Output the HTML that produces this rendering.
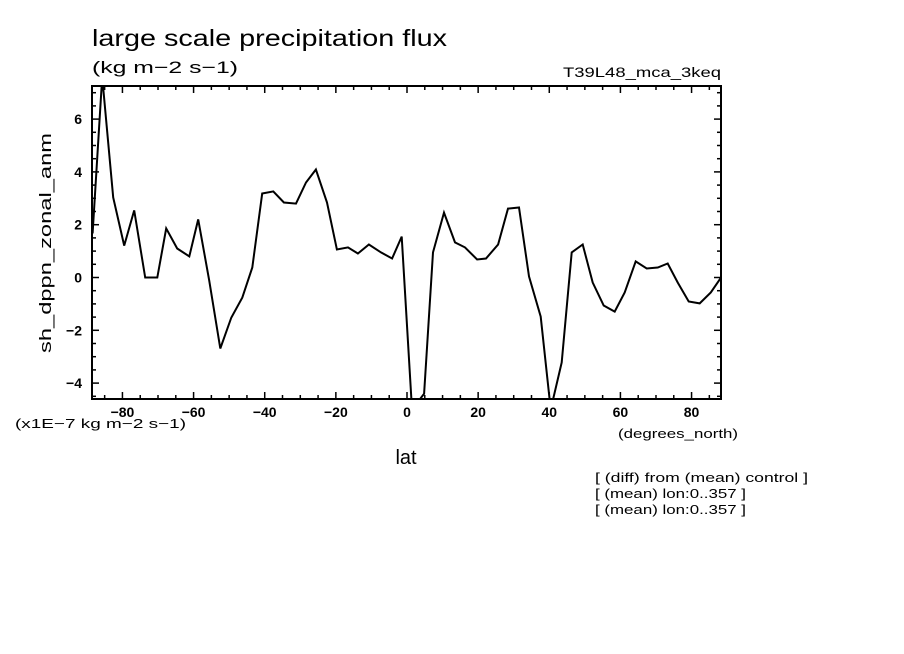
<!DOCTYPE html>
<html><head><meta charset="utf-8"><style>
html,body{margin:0;padding:0;background:#fff;}
svg{display:block;}
text{font-family:"Liberation Sans",sans-serif;fill:#000;}
</style></head><body>
<svg id="chart" width="904" height="654" viewBox="0 0 904 654" xmlns="http://www.w3.org/2000/svg">
<rect width="904" height="654" fill="#fff"/>
<text x="92" y="46" font-size="23" textLength="355" lengthAdjust="spacingAndGlyphs">large scale precipitation flux</text>
<text x="92" y="73" font-size="17" textLength="146" lengthAdjust="spacingAndGlyphs">(kg m−2 s−1)</text>
<text x="563" y="77" font-size="14" textLength="158" lengthAdjust="spacingAndGlyphs">T39L48_mca_3keq</text>
<text transform="translate(51,243) rotate(-90)" font-size="17" text-anchor="middle" textLength="220" lengthAdjust="spacingAndGlyphs">sh_dppn_zonal_anm</text>
<text x="406" y="464" font-size="20" text-anchor="middle">lat</text>
<text x="15" y="428" font-size="13" textLength="171" lengthAdjust="spacingAndGlyphs">(x1E−7 kg m−2 s−1)</text>
<text x="618" y="438" font-size="13" textLength="120" lengthAdjust="spacingAndGlyphs">(degrees_north)</text>
<text x="595" y="482" font-size="13" textLength="213" lengthAdjust="spacingAndGlyphs">[ (diff) from (mean) control ]</text>
<text x="595" y="498" font-size="13" textLength="151" lengthAdjust="spacingAndGlyphs">[ (mean) lon:0..357 ]</text>
<text x="595" y="514" font-size="13" textLength="151" lengthAdjust="spacingAndGlyphs">[ (mean) lon:0..357 ]</text>
<defs><clipPath id="pc"><rect x="92" y="86" width="629" height="313"/></clipPath></defs>
<g id="axes"></g>
<g id="series" clip-path="url(#pc)"></g>
<rect x="92" y="86" width="629" height="313" fill="none" stroke="#000" stroke-width="2"/>
</svg>
<script>
const lats = [-88.4,-85.7,-82.6,-79.5,-76.7,-73.6,-70.2,-67.7,-64.6,-61.2,-58.7,-55.6,-52.5,-49.4,-46.3,-43.5,-40.7,-37.6,-34.6,-31.2,-28.4,-25.6,-22.5,-19.7,-16.6,-13.8,-10.7,-7.3,-4.2,-1.5,1.4,4.8,7.3,10.4,13.5,16.3,19.7,22.2,25.6,28.4,31.5,34.3,37.6,40.4,43.5,46.3,49.4,52.2,55.3,58.4,61.2,64.3,67.4,70.5,73.3,76.1,79.2,82.3,85.4,88.5];
const values = [1.67,7.6,3.03,1.21,2.54,0,0,1.86,1.10,0.80,2.20,-0.11,-2.69,-1.52,-0.76,0.38,3.18,3.26,2.84,2.80,3.60,4.09,2.84,1.06,1.14,0.91,1.25,0.95,0.72,1.55,-5.0,-4.4,0.95,2.46,1.33,1.14,0.68,0.72,1.25,2.61,2.65,0.04,-1.48,-5.0,-3.22,0.95,1.25,-0.19,-1.06,-1.29,-0.57,0.61,0.34,0.38,0.53,-0.19,-0.91,-0.98,-0.57,0.04];
const xTicks = [-80,-60,-40,-20,0,20,40,60,80];
const yTicks = [-4,-2,0,2,4,6];
const NS='http://www.w3.org/2000/svg';
const X0=92,X1=721,Y0=86,Y1=399;
function xs(v){return 407+v*3.557;}
function ys(v){return 277.5-v*26.4;}
const ax=document.getElementById('axes');
function line(x1,y1,x2,y2,name){
  const l=document.createElementNS(NS,'line');
  l.setAttribute('x1',x1);l.setAttribute('y1',y1);l.setAttribute('x2',x2);l.setAttribute('y2',y2);
  l.setAttribute('stroke','#000');l.setAttribute('stroke-width','1.5');
  
  
  ax.appendChild(l);
}
for(let v=-85;v<=85;v+=5){
  const x=xs(v); if(x<X0||x>X1) continue;
  const len=(v%20===0)?7:4;
  line(x,Y1,x,Y1-len,'x-tick');
  line(x,Y0,x,Y0+len,'x-tick-top');
}
for(let v=-4.5;v<=7;v+=0.5){
  const y=ys(v); if(y<Y0||y>Y1) continue;
  const len=(Math.abs(v%2)<1e-9)?7:4;
  line(X0,y,X0+len,y,'y-tick');
  line(X1,y,X1-len,y,'y-tick-right');
}
xTicks.forEach(v=>{
  const t=document.createElementNS(NS,'text');
  t.setAttribute('x',xs(v));t.setAttribute('y',417);t.setAttribute('font-size','14');t.setAttribute('font-weight','bold');t.setAttribute('text-anchor','middle');
  t.textContent=(v<0?'−':'')+Math.abs(v);
  
  
  ax.appendChild(t);
});
yTicks.forEach(v=>{
  const t=document.createElementNS(NS,'text');
  t.setAttribute('x',82);t.setAttribute('y',ys(v)+5);t.setAttribute('font-size','14');t.setAttribute('font-weight','bold');t.setAttribute('text-anchor','end');
  t.textContent=(v<0?'−':'')+Math.abs(v);
  
  
  ax.appendChild(t);
});
const p=document.createElementNS(NS,'polyline');
p.setAttribute('points',lats.map((l,i)=>xs(l).toFixed(1)+','+ys(values[i]).toFixed(1)).join(' '));
p.setAttribute('fill','none');p.setAttribute('stroke','#000');p.setAttribute('stroke-width','2');


document.getElementById('series').appendChild(p);
</script>
</body></html>
